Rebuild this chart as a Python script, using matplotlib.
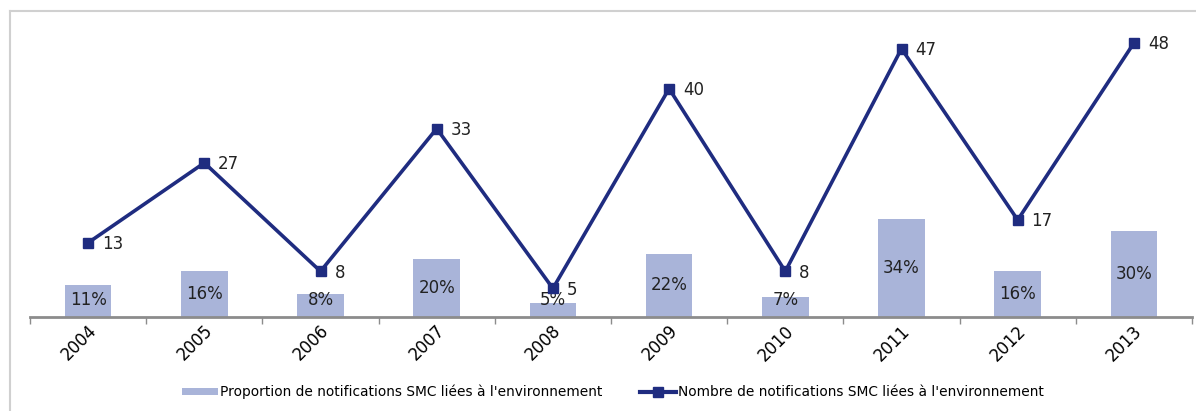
import numpy as np
import matplotlib.pyplot as plt
import matplotlib.transforms as mtransforms
from matplotlib.lines import Line2D

## DATA
years = ['2004', '2005', '2006', '2007', '2008', '2009', '2010', '2011', '2012', '2013']
proportion = [11, 16, 8, 20, 5, 22, 7, 34, 16, 30]   # % of notifications
nombre = [13, 27, 8, 33, 5, 40, 8, 47, 17, 48]       # number of notifications

bar_label = "Proportion de notifications SMC liées à l'environnement"
line_label = "Nombre de notifications SMC liées à l'environnement"

bar_color = '#A9B4D9'
line_color = '#1F2C80'

plt.rcParams['font.family'] = ['DejaVu Sans']

fig = plt.figure(figsize=(11.96, 4.11), dpi=100)
ax = fig.add_axes([30/1196, 1 - 317/411, 1162/1196, 302/411])
ax2 = ax.twinx()

x = np.arange(len(years))

# bars (percent)
bars = ax.bar(x, proportion, width=0.4, color=bar_color, zorder=1, label=bar_label)
for xi, v in zip(x, proportion):
    ax.text(xi, max(v / 2, 6), '%d%%' % v, ha='center', va='center',
            fontsize=12, color='#222222')

# line (count)
ax2.plot(x, nombre, color=line_color, lw=2.6, marker='s', markersize=7,
         zorder=3, label=line_label)
for xi, v in zip(x, nombre):
    ax2.annotate(str(v), (xi, v), xytext=(10, -1), textcoords='offset points',
                 ha='left', va='center', fontsize=12, color='#222222')

ax.set_xlim(-0.5, len(years) - 0.5)
ax.set_ylim(0, 104.9)
ax2.set_ylim(0, 52.9)

for a in (ax, ax2):
    for s in ['top', 'left', 'right']:
        a.spines[s].set_visible(False)
    a.set_yticks([])
ax2.spines['bottom'].set_visible(False)
ax.spines['bottom'].set_color('#8C8C8C')
ax.spines['bottom'].set_linewidth(2)

# ticks at category boundaries, labels at centers
ax.set_xticks(np.arange(-0.5, len(years), 1), minor=True)
ax.tick_params(axis='x', which='minor', length=5, width=1, color='#8C8C8C')
ax.set_xticks(x)
ax.set_xticklabels(years, rotation=45, ha='right', va='center',
                   rotation_mode='anchor', fontsize=12)
ax.tick_params(axis='x', which='major', length=0, pad=8)
offset = mtransforms.ScaledTranslation(4/72, 0, fig.dpi_scale_trans)
for lbl in ax.get_xticklabels():
    lbl.set_transform(lbl.get_transform() + offset)

# legend at bottom
handles = [bars, Line2D([0], [0], color=line_color, lw=3, marker='s', markersize=7)]
fig.legend(handles, [bar_label, line_label], loc='center', ncol=2,
           bbox_to_anchor=(613/1196, 0.046), frameon=False, fontsize=9.9,
           handlelength=2.6, handleheight=0.5, handletextpad=0.2, columnspacing=2.7)

# light frame (top and left edges)
fig.add_artist(Line2D([10/1196, 10/1196], [0, 1 - 11/411], transform=fig.transFigure,
                      color='#D0D0D0', lw=1.5))
fig.add_artist(Line2D([10/1196, 1], [1 - 11/411, 1 - 11/411], transform=fig.transFigure,
                      color='#D0D0D0', lw=1.5))

fig.savefig('out.png', dpi=100)
